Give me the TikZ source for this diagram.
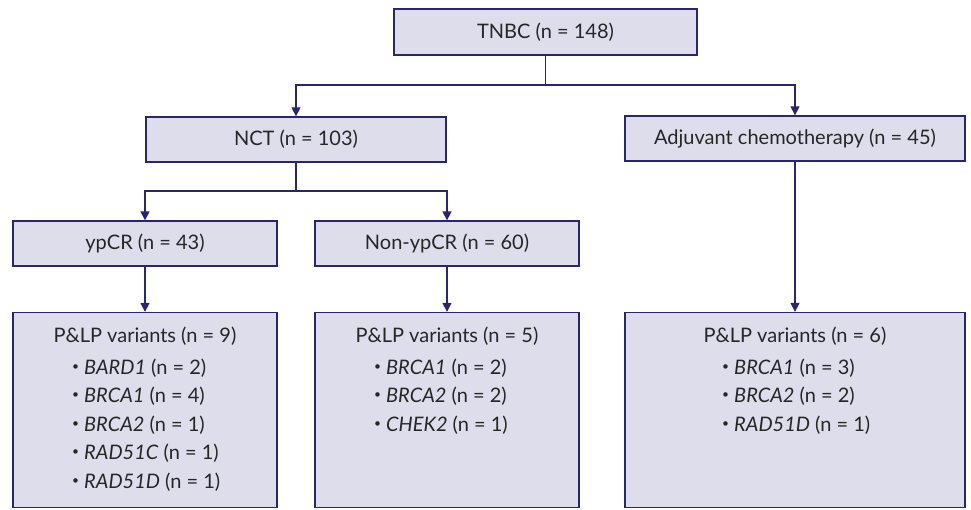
\documentclass[tikz,border=0pt]{standalone}
\usepackage{graphicx}
\usepackage{fontspec}
\setmainfont{Lato}
\usetikzlibrary{arrows.meta,positioning}
\definecolor{boxline}{RGB}{42,37,112}
\definecolor{boxfill}{RGB}{222,221,236}
\definecolor{txtgrey}{RGB}{38,38,38}
\newcommand\bul{\makebox[12pt][l]{\raisebox{.2em}{\scalebox{.6}{\textbullet}}}}
\tikzset{
  blk/.style={draw=boxline,fill=boxfill,line width=1.3pt,inner sep=0pt,
              font=\fontsize{20}{24}\selectfont,text=txtgrey},
  blks/.style={blk,minimum width=264pt,minimum height=45pt},
  blkv/.style={blk,minimum height=195pt},
  txt/.style={inner sep=0pt,font=\fontsize{20}{24}\selectfont,text=txtgrey},
  item/.style={txt,anchor=base west},
  flow/.style={-{Triangle[length=9pt,width=9pt]},line width=1.3pt,draw=boxline},
  link/.style={line width=1.3pt,draw=boxline},
}
\begin{document}
\begin{tikzpicture}[x=1pt,y=-1pt]
  \useasboundingbox (0,0) rectangle (971,509);

  % top levels
  \node[blk,minimum width=303pt,minimum height=46pt] (tnbc) at (545.5,32) {TNBC (n = 148)};
  \node[blk,minimum width=300pt,minimum height=45pt] (nct)  at (296,139.5) {NCT (n = 103)};
  \node[blk,minimum width=340pt,minimum height=45pt] (adj)  at (795,138.5) {Adjuvant chemotherapy (n = 45)};
  \node[blks] (ypcr)  at (145,243.5) {ypCR (n = 43)};
  \node[blks] (nonyp) at (447,243.5) {Non-ypCR (n = 60)};

  % variant boxes
  \node[blkv,minimum width=264pt] (vy) at (145,410) {};
  \node[blkv,minimum width=264pt] (vn) at (447,410) {};
  \node[blkv,minimum width=340pt] (va) at (795,410) {};

  \node[txt,anchor=base] (vy-t) at (145,342) {P\&LP variants (n = 9)};
  \node[txt,anchor=base] (vn-t) at (447,342) {P\&LP variants (n = 5)};
  \node[txt,anchor=base] (va-t) at (795,342) {P\&LP variants (n = 6)};

  \foreach \gene/\num [count=\i] in {BARD1/2,BRCA1/4,BRCA2/1,RAD51C/1,RAD51D/1}
    \node[item] (vy-\i) at (72,{374+28.5*(\i-1)}) {\bul\textit{\gene} (n = \num)};
  \foreach \gene/\num [count=\i] in {BRCA1/2,BRCA2/2,CHEK2/1}
    \node[item] (vn-\i) at (374,{374+28.5*(\i-1)}) {\bul\textit{\gene} (n = \num)};
  \foreach \gene/\num [count=\i] in {BRCA1/3,BRCA2/2,RAD51D/1}
    \node[item] (va-\i) at (722,{374+28.5*(\i-1)}) {\bul\textit{\gene} (n = \num)};

  % connectors
  \coordinate (split1) at (545.5,85);
  \coordinate (split2) at (296,191);
  \draw[link] (tnbc.south) -- (split1);
  \draw[flow] (split1) -| (nct.north);
  \draw[flow] (split1) -| (adj.north);
  \draw[link] (nct.south) -- (split2);
  \draw[flow] (split2) -| (ypcr.north);
  \draw[flow] (split2) -| (nonyp.north);
  \draw[flow] (ypcr) -- (vy);
  \draw[flow] (nonyp) -- (vn);
  \draw[flow] (adj) -- (va);
\end{tikzpicture}
\end{document}
